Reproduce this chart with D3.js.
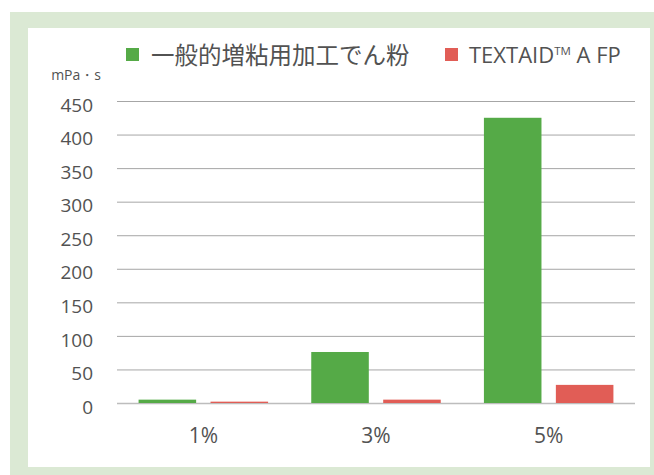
<!DOCTYPE html>
<html><head><meta charset="utf-8">
<script src="https://cdn.jsdelivr.net/npm/d3@7"></script>
<style>
html,body{margin:0;padding:0;background:#fff;}
svg{display:block;}
text{font-family:"Open Sans","Noto Sans",sans-serif;fill:#525252;}
</style></head>
<body>
<svg id="c" width="654" height="475"></svg>
<script>
const categories = ["1%", "3%", "5%"];
const seriesNames = ["一般的増粘用加工でん粉", "TEXTAID™ A FP"];
const seriesGeneral = [5, 76, 425];
const seriesTextaid = [2, 5, 27];
const yTicks = [0, 50, 100, 150, 200, 250, 300, 350, 400, 450];
const unitLabel = "mPa・s";
const colors = ["#55aa47", "#e15d56"];

const svg = d3.select("#c");
svg.append("rect").attr("x",10).attr("y",12).attr("width",644).attr("height",463).attr("fill","#dbe9d4");
svg.append("rect").attr("x",28).attr("y",28).attr("width",622).attr("height",439).attr("fill","#fff");

const x0 = d3.scaleBand().domain(categories).range([117,635]).padding(0);
const x1 = d3.scaleBand().domain([0,1]).range([0,x0.bandwidth()]).paddingInner(0.2).paddingOuter(0.3);
const y = d3.scaleLinear().domain([0,450]).range([403,101]);

// grid
svg.append("g").selectAll("line").data(yTicks).join("line")
  .attr("x1",117).attr("x2",635)
  .attr("y1",d=>y(d)+0.5).attr("y2",d=>y(d)+0.5)
  .attr("stroke",d=>d===0?"#bdbdbd":"#a6a6a6").attr("stroke-width",d=>d===0?1.5:1);

// y labels
svg.append("g").selectAll("text").data(yTicks).join("text")
  .attr("x",93).attr("y",d=>y(d)+4).attr("dy","0.35em")
  .attr("text-anchor","end").attr("font-size",19).text(d=>d);

svg.append("text").attr("x",101).attr("y",75).attr("dy","0.35em")
  .attr("text-anchor","end").attr("font-size",14).text(unitLabel);

// bars
const data = categories.map((c,i)=>({c, vals:[seriesGeneral[i], seriesTextaid[i]]}));
const g = svg.append("g").selectAll("g").data(data).join("g")
  .attr("transform",d=>`translate(${x0(d.c)},0)`);
g.selectAll("rect").data(d=>d.vals.map((v,k)=>({v,k}))).join("rect")
  .attr("x",d=>x1(d.k)).attr("width",x1.bandwidth())
  .attr("y",d=>y(d.v)).attr("height",d=>y(0)-y(d.v))
  .attr("fill",d=>colors[d.k]);

// x labels
svg.append("g").selectAll("text").data(categories).join("text")
  .attr("x",d=>x0(d)+x0.bandwidth()/2).attr("y",436).attr("dy","0.35em")
  .attr("text-anchor","middle").attr("font-size",21).text(d=>d);

// legend
svg.append("rect").attr("x",126).attr("y",48).attr("width",13).attr("height",13).attr("fill",colors[0]);
svg.append("text").attr("x",151).attr("y",56).attr("dy","0.35em")
  .attr("font-size",23.5).style("font-family","'Noto Sans CJK JP',sans-serif").text(seriesNames[0]);
svg.append("rect").attr("x",445).attr("y",48).attr("width",13).attr("height",13).attr("fill",colors[1]);
const t2 = svg.append("text").attr("x",469).attr("y",55).attr("dy","0.35em").attr("font-size",22);
const parts = seriesNames[1].split("™");
t2.append("tspan").text(parts[0]);
t2.append("tspan").attr("font-size",11.5).attr("dy",-8).text("TM");
t2.append("tspan").attr("dy",8).text(parts[1]);
</script>
</body></html>
